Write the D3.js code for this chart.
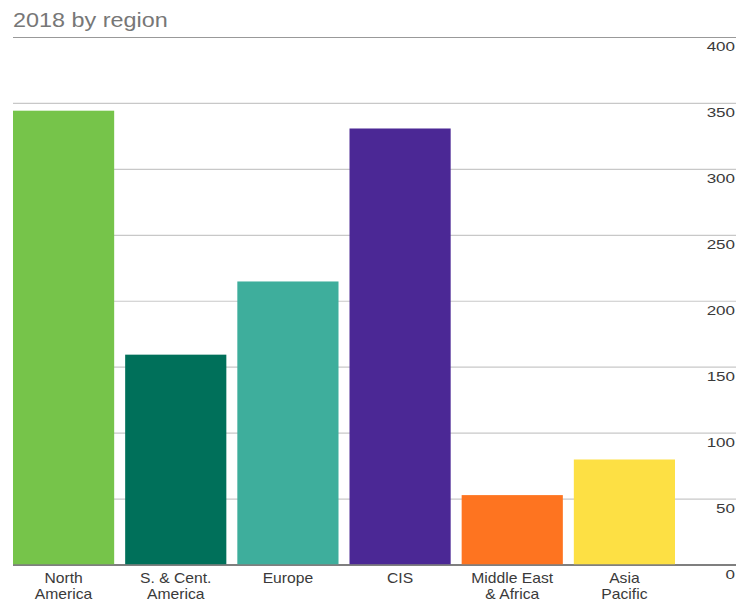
<!DOCTYPE html>
<html><head><meta charset="utf-8">
<script src="https://cdn.jsdelivr.net/npm/d3@7"></script>
<style>body{margin:0;background:#fff}svg{display:block;font-family:"Liberation Sans",Arial,sans-serif}</style>
</head><body><svg id="c" width="736" height="600"></svg>
<script>
const title = "2018 by region";
const categories = [["North","America"],["S. & Cent.","America"],["Europe"],["CIS"],["Middle East","& Africa"],["Asia","Pacific"]];
const values = [344.5, 159.5, 215, 331, 53, 80];
const colors = ["#76c44a","#00705a","#3eae9c","#4b2895","#fe7420","#fde044"];
const ticks = [0,50,100,150,200,250,300,350,400];

const svg = d3.select("#c");
const y = d3.scaleLinear().domain([0,400]).range([565,37.5]);
const x = d3.scaleBand().domain(d3.range(categories.length)).range([13,675]).paddingInner(0.098).paddingOuter(0);

svg.append("text").attr("transform","translate(13,26.5) scale(1.2,1)")
  .attr("font-size",19.5).attr("fill","#777").text(title);

const g = svg.append("g");
ticks.forEach(t=>{
  g.append("line").attr("x1",13).attr("x2",736).attr("y1",y(t)).attr("y2",y(t))
   .attr("stroke", t===400 ? "#999" : (t===0 ? "#555":"#c8c8c8")).attr("stroke-width", t===0?1.5:1.2);
  g.append("text").attr("transform",`translate(735,${y(t)+13.5}) scale(1.36,1)`).attr("text-anchor","end")
   .attr("font-size",12.5).attr("fill","#3a3a3a").text(t);
});

svg.append("g").selectAll("rect").data(values).join("rect")
  .attr("x",(d,i)=>x(i)).attr("width",x.bandwidth())
  .attr("y",d=>y(d)).attr("height",d=>y(0)-y(d)-0.75)
  .attr("fill",(d,i)=>colors[i]);

const lab = svg.append("g");
categories.forEach((c,i)=>{
  c.forEach((line,j)=>{
    lab.append("text").attr("text-anchor","middle").attr("font-size",14).attr("fill","#3a3a3a")
      .attr("transform",`translate(${x(i)+x.bandwidth()/2},${583+j*16}) scale(1.12,1)`).text(line);
  });
});
</script></body></html>
